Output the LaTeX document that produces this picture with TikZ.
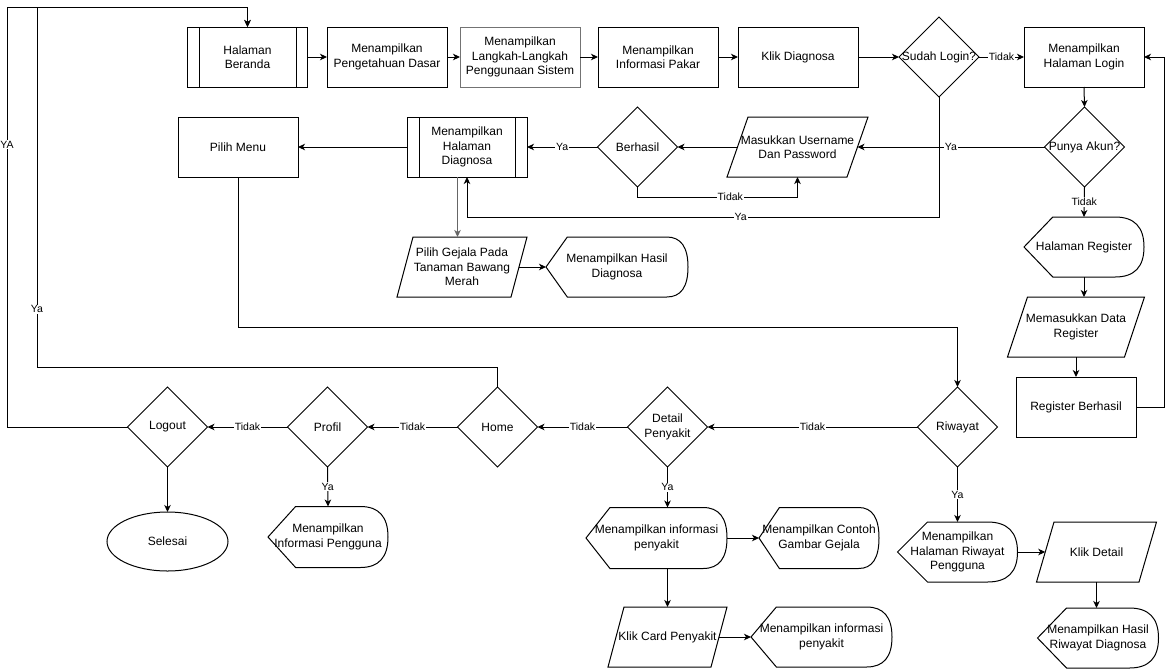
\documentclass[tikz,border=0pt]{standalone}
\usepackage{fontspec}
\setmainfont{Liberation Sans}
\usetikzlibrary{shapes.geometric,arrows.meta,calc}
\newcommand\nfont{\fontsize{12}{14.5}\selectfont}
\newcommand\lfont{\fontsize{10.5}{12}\selectfont}
% display shape outline around a named (undrawn) node
\newcommand\dispdraw[2]{\draw let \p1=(#1.south west), \p2=(#1.north east), \n1={(\x2-\x1)*#2}, \n2={(\y2-\y1)/2} in
  (\x1,\y1+\n2) -- (\x1+\n1,\y2) -- (\x2-\n1,\y2) .. controls (\x2-\n1/3,\y2) and (\x2,\y2-\n2/3) .. (\x2,\y2-\n2)
  .. controls (\x2,\y1+\n2/3) and (\x2-\n1/3,\y1) .. (\x2-\n1,\y1) -- (\x1+\n1,\y1) -- cycle;}
% parallelogram outline around a named (undrawn) node, #2 = half skew
\newcommand\paradraw[2]{\draw ([xshift=#2]#1.north west) -- ([xshift=#2]#1.north east) -- ([xshift=-#2]#1.south east) -- ([xshift=-#2]#1.south west) -- cycle;}
% predefined process inner lines
\newcommand\preddraw[2]{\draw ([xshift=#2]#1.north west) -- ([xshift=#2]#1.south west); \draw ([xshift=-#2]#1.north east) -- ([xshift=-#2]#1.south east);}
\begin{document}
\begin{tikzpicture}[x=1pt,y=-1pt,line width=1pt,
  box/.style={draw, rectangle, minimum width=120pt, minimum height=60pt, inner sep=0pt, outer sep=0pt, align=center, font=\nfont},
  nob/.style={rectangle, minimum height=60pt, inner sep=0pt, outer sep=0pt, align=center, font=\nfont},
  diam/.style={draw, diamond, minimum width=80pt, minimum height=80pt, inner sep=0pt, outer sep=0pt},
  dtext/.style={font=\nfont, align=center, inner sep=0pt},
  arr/.style={-{Stealth[length=7pt,width=6.5pt,inset=2pt]}},
  lbl/.style={fill=white, inner sep=1pt, font=\lfont}]
\useasboundingbox (0,0) rectangle (1173,670);

% top row
\node[box] (beranda) at (247.5,57) {Halaman\\Beranda};
\preddraw{beranda}{11.5pt}
\node[box] (dasar) at (387,57) {Menampilkan\\Pengetahuan Dasar};
\node[box, draw=black!55] (langkah) at (520,57) {Menampilkan\\Langkah-Langkah\\Penggunaan Sistem};
\node[box] (pakar) at (658,57) {Menampilkan\\Informasi Pakar};
\node[box] (klikdiag) at (798,57) {Klik Diagnosa};
\node[diam, label={[dtext]center:Sudah Login?}] (sudah) at (939,57) {};
\node[box] (loginpg) at (1084,57) {Menampilkan\\Halaman Login};

% second row
\node[box] (pilihmenu) at (238,147) {Pilih Menu};
\node[box] (diagnosa) at (467,147) {Menampilkan\\Halaman\\Diagnosa};
\preddraw{diagnosa}{12pt}
\node[diam, label={[dtext]center:Berhasil}] (berhasil) at (637.5,147) {};
\node[nob, minimum width=120pt] (masukkan) at (797.5,147) {Masukkan Username\\Dan Password};
\paradraw{masukkan}{10.5pt}
\node[diam, label={[dtext]center:Punya Akun?}] (punya) at (1084.5,147) {};

% register column
\node[nob, minimum width=120pt] (register) at (1084,247) {Halaman Register};
\dispdraw{register}{0.24}
\node[nob, minimum width=117pt] (datareg) at (1076,327) {Memasukkan Data\\Register};
\paradraw{datareg}{10pt}
\node[box] (regok) at (1076,407) {Register Berhasil};

% diagnosa branch
\node[nob, minimum width=114pt] (gejala) at (462,267) {Pilih Gejala Pada\\Tanaman Bawang\\Merah};
\paradraw{gejala}{8pt}
\node[nob, minimum width=142pt] (hasildiag) at (617,267) {Menampilkan Hasil\\Diagnosa};
\dispdraw{hasildiag}{0.15}

% menu row
\node[diam, label={[dtext]center:Riwayat}] (riwayat) at (957.5,427) {};
\node[diam, label={[dtext]center:Detail\\Penyakit}] (detail) at (667.5,427) {};
\node[diam, label={[dtext]center:Home}] (home) at (497.5,427) {};
\node[diam, label={[dtext]center:Profil}] (profil) at (327.5,427) {};
\node[diam, label={[dtext]center:Logout}] (logout) at (167.5,427) {};

% bottom
\node[draw, ellipse, minimum width=121pt, minimum height=59pt, inner sep=0pt, outer sep=0pt, font=\nfont] (selesai) at (167.5,541.5) {Selesai};
\node[nob, minimum width=120pt, minimum height=61pt] (infopg) at (328,537) {Menampilkan\\Informasi Pengguna};
\dispdraw{infopg}{0.23}
\node[nob, minimum width=141pt, minimum height=61pt] (infopy) at (656.5,538) {Menampilkan informasi\\penyakit};
\dispdraw{infopy}{0.17}
\node[nob, minimum width=120pt, minimum height=61pt] (contoh) at (819,538) {Menampilkan Contoh\\Gambar Gejala};
\dispdraw{contoh}{0.17}
\node[nob, minimum width=103pt] (klikcard) at (667.5,637) {Klik Card Penyakit};
\paradraw{klikcard}{8pt}
\node[nob, minimum width=141pt] (infopy2) at (821.5,637) {Menampilkan informasi\\penyakit};
\dispdraw{infopy2}{0.18}
\node[nob, minimum width=120pt] (rwpg) at (957.5,552) {Menampilkan\\Halaman Riwayat\\Pengguna};
\dispdraw{rwpg}{0.25}
\node[nob, minimum width=102.5pt] (klikdetail) at (1096.5,552) {Klik Detail};
\paradraw{klikdetail}{8.75pt}
\node[nob, minimum width=121pt] (hasilrw) at (1098,638) {Menampilkan Hasil\\Riwayat Diagnosa};
\dispdraw{hasilrw}{0.24}

% loop coordinates
\coordinate (tl) at (37,7);
\coordinate (tll) at (7,7);
\coordinate (tr) at (247.5,7);
\coordinate (rloop) at (1164,57);

% connectors top row
\draw[arr] (beranda.east) -- (dasar.west);
\draw[arr] (dasar.east) -- (langkah.west);
\draw[arr] (langkah.east) -- (pakar.west);
\draw[arr] (pakar.east) -- (klikdiag.west);
\draw[arr] (klikdiag.east) -- (sudah.west);
\draw[arr] (sudah.east) -- node[lbl]{Tidak} (loginpg.west);
\draw[arr] (loginpg.south) -- (punya.north);
\draw[arr] (punya.west) -- node[lbl]{Ya} (masukkan.east);
\draw[arr] (punya.south) -- node[lbl]{Tidak} (register.north);
\draw[arr] (register.south) -- (register.south |- datareg.north);
\draw[arr] (regok.north |- datareg.south) -- (regok.north);
\draw[arr] (regok.east) -| (rloop) -- (loginpg.east);
\draw[arr] (masukkan.west) -- (berhasil.east);
\draw[arr] (berhasil.west) -- node[lbl]{Ya} (diagnosa.east);
\draw[arr] (berhasil.south) -- (637.5,197) -| node[lbl,pos=0.29]{Tidak} (masukkan.south);
\draw[arr] (sudah.south) -- (939,217) -| node[lbl,pos=0.21]{Ya} (diagnosa.south);
\draw[arr] (diagnosa.west) -- (pilihmenu.east);
\draw[arr, draw=black!60] ([xshift=-9.5pt]diagnosa.south) -- ([xshift=-9.5pt]diagnosa.south |- gejala.north);
\draw[arr] (gejala.east) -- (hasildiag.west);
\draw[arr] (pilihmenu.south) -- (238,327) -| (riwayat.north);

% menu row
\draw[arr] (riwayat.west) -- node[lbl]{Tidak} (detail.east);
\draw[arr] (detail.west) -- node[lbl]{Tidak} (home.east);
\draw[arr] (home.west) -- node[lbl]{Tidak} (profil.east);
\draw[arr] (profil.west) -- node[lbl]{Tidak} (logout.east);
\draw[arr] (logout.south) -- (selesai.north);
\draw[arr] (profil.south) -- node[lbl]{Ya} (infopg.north);
\draw[arr] (detail.south) -- node[lbl]{Ya} (detail.south |- infopy.north);
\draw[arr] (infopy.east) -- (contoh.west);
\draw[arr] (detail.south |- infopy.south) -- (detail.south |- klikcard.north);
\draw[arr] (klikcard.east) -- (infopy2.west);
\draw[arr] (riwayat.south) -- node[lbl]{Ya} (rwpg.north);
\draw[arr] (rwpg.east) -- (klikdetail.west);
\draw[arr] (klikdetail.south) -- (klikdetail.south |- hasilrw.north);

% loops back to beranda
\draw[arr] (home.north) -- (497.5,367) -| node[lbl,pos=0.58]{Ya} (tl) -- (tr) -- (beranda.north);
\draw[arr] (logout.west) -| node[lbl,pos=0.836]{YA} (tll) -- (tr) -- (beranda.north);
\end{tikzpicture}
\end{document}
